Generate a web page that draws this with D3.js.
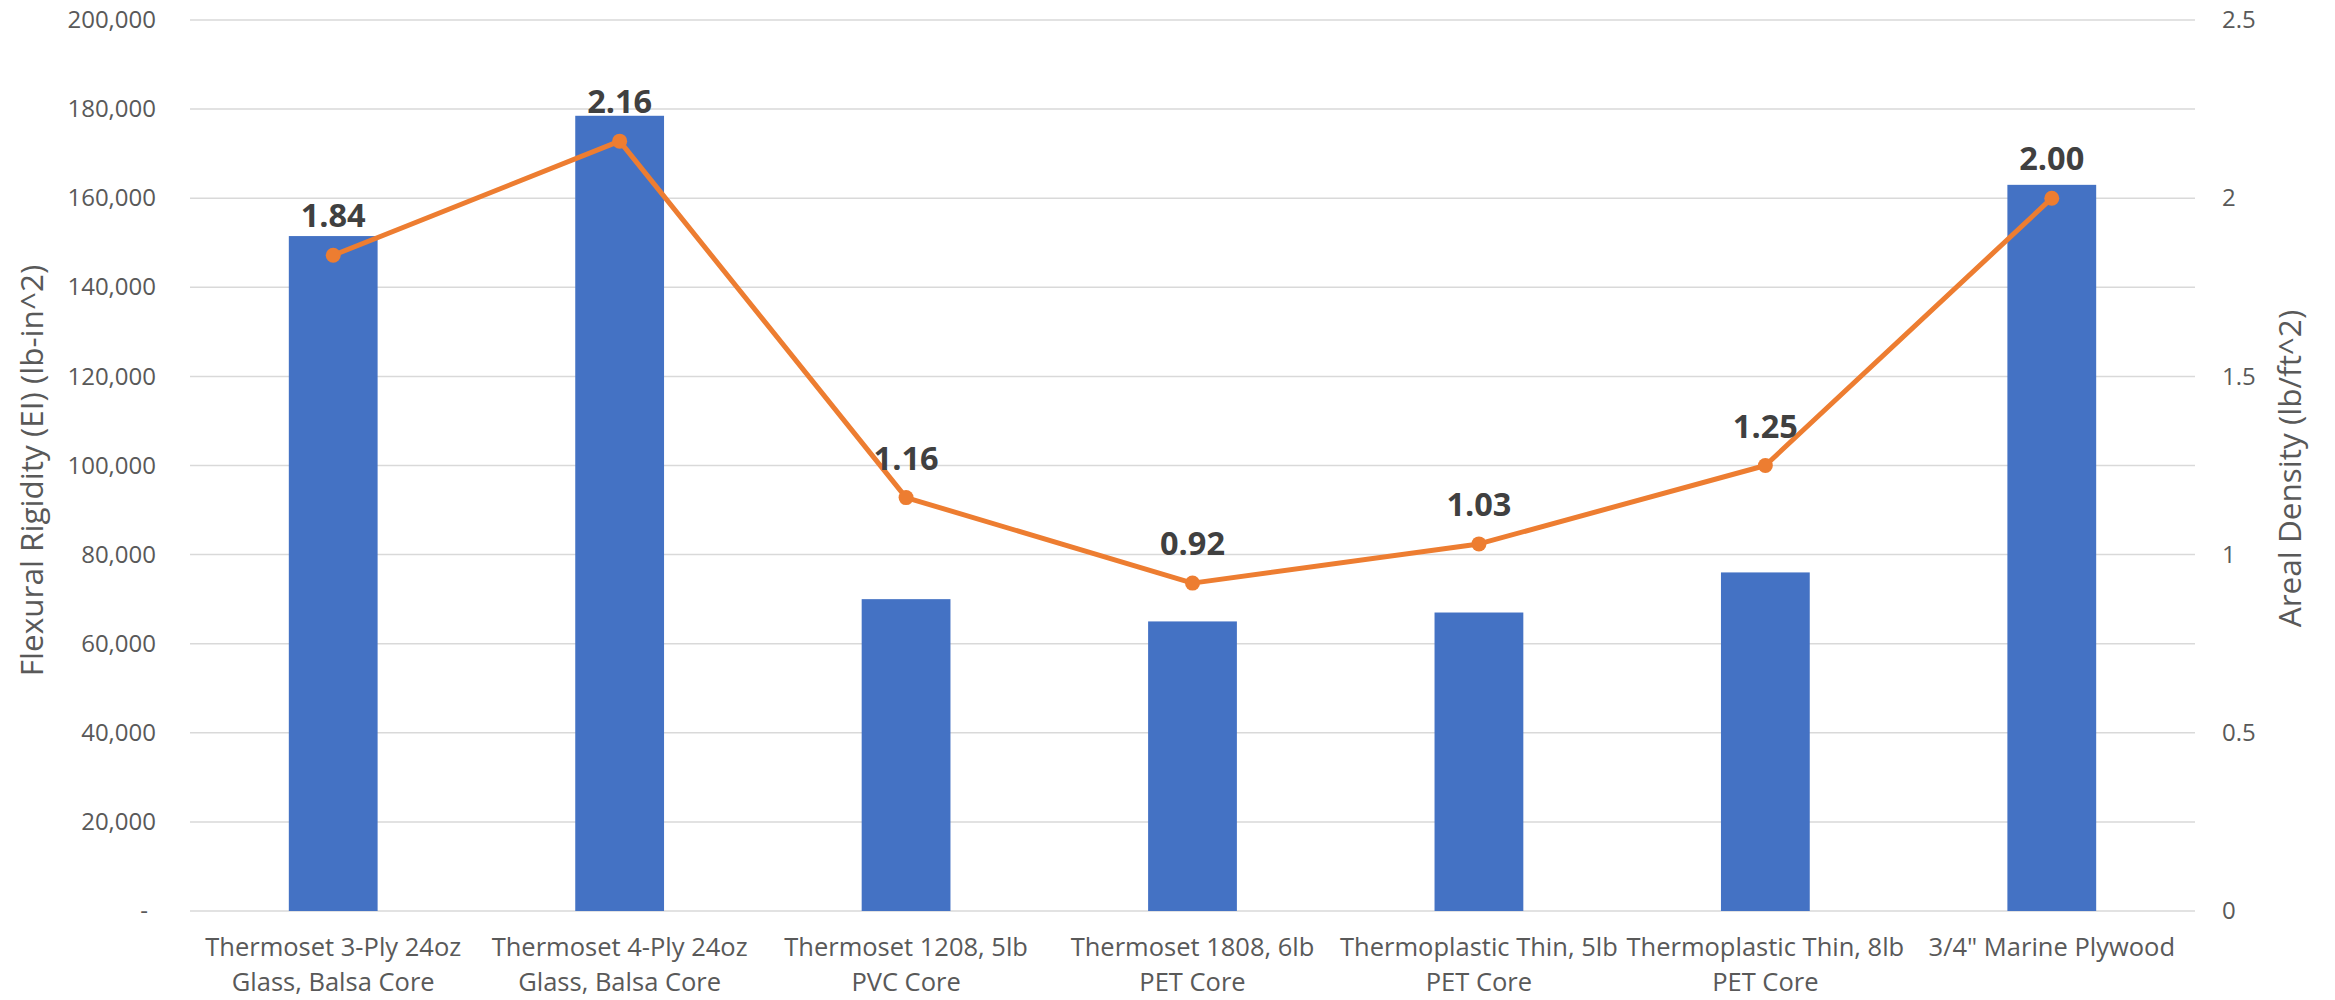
<!DOCTYPE html>
<html>
<head>
<meta charset="utf-8">
<script src="https://cdn.jsdelivr.net/npm/d3@7"></script>
<style>
  body { margin: 0; background: #fff; }
  svg { display: block; font-family: "Open Sans", sans-serif; }
</style>
</head>
<body>
<script>
// categories (two lines each)
const categories = [
  ["Thermoset 3-Ply 24oz", "Glass, Balsa Core"],
  ["Thermoset 4-Ply 24oz", "Glass, Balsa Core"],
  ["Thermoset 1208, 5lb", "PVC Core"],
  ["Thermoset 1808, 6lb", "PET Core"],
  ["Thermoplastic Thin, 5lb", "PET Core"],
  ["Thermoplastic Thin, 8lb", "PET Core"],
  ["3/4\" Marine Plywood", ""]
];
// Flexural rigidity (bars, left axis)
const rigidity = [151500, 178500, 70000, 65000, 67000, 76000, 163000];
// Areal density (line, right axis)
const density = [1.84, 2.16, 1.16, 0.92, 1.03, 1.25, 2.00];

const leftTicks = d3.range(0, 200001, 20000);
const rightTicks = [0, 0.5, 1, 1.5, 2, 2.5];

const width = 2335, height = 1000;
const margin = {top: 20, right: 140, bottom: 89, left: 190};

const svg = d3.select("body").append("svg")
    .attr("width", width)
    .attr("height", height);

const keys = categories.map((d, i) => i);

const x = d3.scaleBand()
    .domain(keys)
    .range([margin.left, width - margin.right])
    .paddingInner(0.69)
    .paddingOuter(0.345);

const yL = d3.scaleLinear().domain([0, 200000]).range([height - margin.bottom, margin.top]);
const yR = d3.scaleLinear().domain([0, 2.5]).range([height - margin.bottom, margin.top]);

// gridlines
svg.append("g")
  .selectAll("line")
  .data(leftTicks)
  .join("line")
    .attr("x1", margin.left)
    .attr("x2", width - margin.right)
    .attr("y1", d => yL(d))
    .attr("y2", d => yL(d))
    .attr("stroke", "#d9d9d9")
    .attr("stroke-width", 1.5);

// left axis
const fmt = d3.format(",");
const leftAxis = d3.axisLeft(yL)
    .tickValues(leftTicks)
    .tickSize(0)
    .tickPadding(34)
    .tickFormat(d => d === 0 ? "-" : fmt(d));
svg.append("g")
    .attr("transform", `translate(${margin.left},0)`)
    .call(leftAxis)
    .call(g => g.select(".domain").remove())
    .call(g => g.selectAll("text")
        .attr("font-size", 24)
        .attr("font-family", "Open Sans")
        .attr("fill", "#595959"))
    .call(g => g.selectAll(".tick").filter(d => d === 0).select("text").attr("dx", -8));

// right axis
const rightAxis = d3.axisRight(yR)
    .tickValues(rightTicks)
    .tickSize(0)
    .tickPadding(27)
    .tickFormat(d => d);
svg.append("g")
    .attr("transform", `translate(${width - margin.right},0)`)
    .call(rightAxis)
    .call(g => g.select(".domain").remove())
    .call(g => g.selectAll("text")
        .attr("font-size", 24)
        .attr("font-family", "Open Sans")
        .attr("fill", "#595959"));

// bars
svg.append("g")
  .selectAll("rect")
  .data(rigidity)
  .join("rect")
    .attr("x", (d, i) => x(i))
    .attr("y", d => yL(d))
    .attr("width", x.bandwidth())
    .attr("height", d => yL(0) - yL(d))
    .attr("fill", "#4472c4");

// line
const cx = i => x(i) + x.bandwidth() / 2;
const line = d3.line()
    .x((d, i) => cx(i))
    .y(d => yR(d));

svg.append("path")
    .datum(density)
    .attr("d", line)
    .attr("fill", "none")
    .attr("stroke", "#ed7d31")
    .attr("stroke-width", 5)
    .attr("stroke-linejoin", "round");

svg.append("g")
  .selectAll("circle")
  .data(density)
  .join("circle")
    .attr("cx", (d, i) => cx(i))
    .attr("cy", d => yR(d))
    .attr("r", 7.5)
    .attr("fill", "#ed7d31");

// data labels
svg.append("g")
  .selectAll("text")
  .data(density)
  .join("text")
    .attr("x", (d, i) => cx(i))
    .attr("y", d => yR(d) - 28)
    .attr("text-anchor", "middle")
    .attr("font-size", 32.5)
    .attr("font-weight", "bold")
    .attr("fill", "#404040")
    .text(d => d.toFixed(2));

// category labels
const cat = svg.append("g")
    .attr("font-size", 25.5)
    .attr("fill", "#595959")
    .attr("text-anchor", "middle");
categories.forEach((lines, i) => {
  const t = cat.append("text")
      .attr("x", cx(i))
      .attr("y", 956);
  lines.forEach((s, j) => {
    if (!s) return;
    t.append("tspan")
        .attr("x", cx(i))
        .attr("dy", j === 0 ? 0 : 35)
        .text(s);
  });
});

// axis titles
svg.append("text")
    .attr("transform", `translate(32,${(margin.top + height - margin.bottom) / 2 + 5}) rotate(-90)`)
    .attr("text-anchor", "middle")
    .attr("dy", "0.35em")
    .attr("font-size", 31.5)
    .attr("fill", "#595959")
    .text("Flexural Rigidity (EI) (lb-in^2)");

svg.append("text")
    .attr("transform", `translate(2290,${(margin.top + height - margin.bottom) / 2 + 3}) rotate(-90)`)
    .attr("text-anchor", "middle")
    .attr("dy", "0.35em")
    .attr("font-size", 31.5)
    .attr("fill", "#595959")
    .text("Areal Density (lb/ft^2)");
</script>
</body>
</html>
